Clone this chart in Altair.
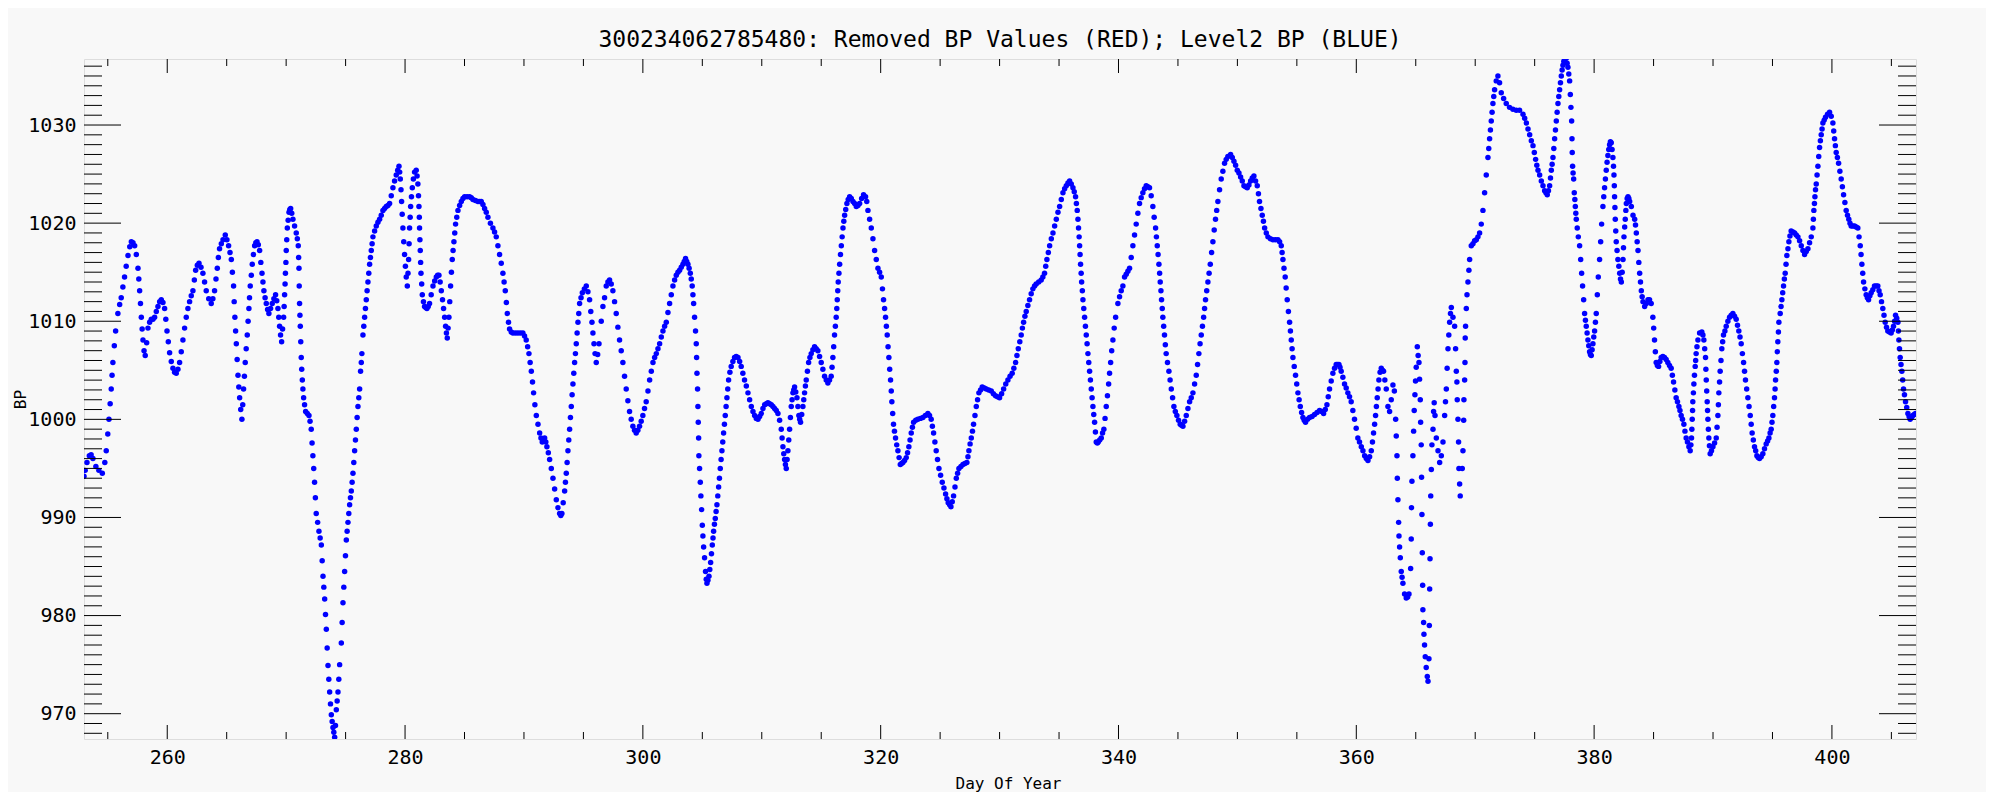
import altair as alt
import pandas as pd

TITLE = "300234062785480: Removed BP Values (RED); Level2 BP (BLUE)"

# (day of year, BP), segment by segment
seg_a = [(253.00, 994.2), (253.10, 994.8), (253.25, 995.6), (253.45, 996.3), (253.60, 996.4), (253.75, 996.0), (254.00, 995.2), (254.25, 994.8), (254.54, 994.5), (254.75, 995.6), (254.87, 996.8), (255.00, 998.5), (255.10, 1000.0), (255.20, 1001.6), (255.29, 1003.1), (255.36, 1004.5), (255.43, 1005.8), (255.55, 1007.5), (255.66, 1009.0), (255.85, 1010.8), (256.00, 1011.7), (256.13, 1012.4), (256.27, 1013.5), (256.41, 1014.5), (256.55, 1015.6), (256.70, 1016.7), (256.85, 1017.6), (256.98, 1018.1), (257.12, 1018.0), (257.26, 1017.7), (257.40, 1016.8), (257.54, 1015.4), (257.61, 1014.3), (257.68, 1013.1), (257.75, 1011.8), (257.82, 1010.4), (257.89, 1009.2), (257.96, 1008.1), (258.05, 1007.0), (258.15, 1006.5), (258.27, 1007.8), (258.38, 1009.3), (258.52, 1009.9), (258.66, 1010.2), (258.80, 1010.2), (258.94, 1010.4), (259.08, 1011.0), (259.22, 1011.5), (259.36, 1012.0), (259.50, 1012.2), (259.64, 1011.9), (259.78, 1011.3), (259.88, 1010.2), (259.98, 1009.0), (260.09, 1007.9), (260.20, 1006.8), (260.34, 1005.9), (260.48, 1005.2), (260.62, 1004.8), (260.76, 1004.7), (260.90, 1005.1), (261.04, 1005.8), (261.18, 1006.9), (261.32, 1008.1), (261.46, 1009.3), (261.60, 1010.4), (261.74, 1011.3), (261.88, 1012.0), (262.02, 1012.6), (262.16, 1013.1), (262.28, 1014.2), (262.39, 1015.2), (262.53, 1015.7), (262.67, 1015.9), (262.84, 1015.5), (263.00, 1014.9), (263.14, 1014.0), (263.28, 1013.1), (263.49, 1012.3), (263.70, 1011.8), (263.84, 1012.3), (263.98, 1013.1), (264.10, 1014.3), (264.21, 1015.4), (264.30, 1016.5), (264.40, 1017.4), (264.55, 1017.9), (264.69, 1018.3), (264.88, 1018.8), (265.02, 1018.3), (265.16, 1017.7), (265.28, 1017.0), (265.39, 1016.3), (265.48, 1015.0), (265.58, 1013.6), (265.63, 1012.0), (265.69, 1010.4), (265.75, 1009.0), (265.81, 1007.7), (265.88, 1006.1), (265.95, 1004.5), (266.02, 1003.3), (266.09, 1002.2), (266.18, 1001.0), (266.28, 1000.0), (266.35, 1001.5), (266.42, 1003.1), (266.49, 1004.4), (266.56, 1005.8), (266.64, 1007.2), (266.73, 1008.6), (266.80, 1010.0), (266.87, 1011.3), (266.92, 1012.4), (266.98, 1013.6), (267.07, 1014.7), (267.15, 1015.8), (267.25, 1016.8), (267.35, 1017.7), (267.45, 1018.0), (267.55, 1018.1), (267.66, 1017.8), (267.77, 1017.2), (267.87, 1016.0), (267.97, 1014.9), (268.05, 1014.0), (268.13, 1013.1), (268.23, 1012.4), (268.33, 1011.8), (268.44, 1011.2), (268.55, 1010.8), (268.69, 1011.3), (268.83, 1011.8), (268.97, 1012.3), (269.11, 1012.7), (269.21, 1012.1), (269.31, 1011.3), (269.38, 1010.4), (269.45, 1009.5), (269.53, 1008.6), (269.62, 1007.9), (269.70, 1009.2), (269.79, 1010.4), (269.83, 1011.5), (269.87, 1012.7), (269.91, 1013.8), (269.94, 1014.9), (269.98, 1016.0), (270.01, 1017.2), (270.05, 1018.3), (270.10, 1019.5), (270.17, 1020.3), (270.24, 1021.1), (270.31, 1021.4), (270.38, 1021.5), (270.47, 1021.0), (270.57, 1020.4), (270.71, 1019.7), (270.85, 1019.0), (270.94, 1018.4), (271.02, 1017.7), (271.05, 1016.5), (271.08, 1015.4), (271.10, 1013.6), (271.13, 1011.8), (271.16, 1010.6), (271.19, 1009.5), (271.23, 1007.9), (271.27, 1006.3), (271.31, 1005.1), (271.36, 1004.0), (271.41, 1003.1), (271.47, 1002.2), (271.55, 1001.5), (271.64, 1000.8), (271.78, 1000.6), (271.92, 1000.4), (272.01, 999.8), (272.11, 999.0), (272.18, 997.6), (272.25, 996.3), (272.32, 995.0), (272.39, 993.6), (272.46, 992.0), (272.53, 990.4), (272.65, 989.5), (272.76, 988.6), (272.86, 987.9), (272.96, 987.2), (273.03, 985.6), (273.10, 984.0), (273.17, 982.9), (273.24, 981.7), (273.31, 980.1), (273.38, 978.6), (273.45, 976.7), (273.52, 974.9), (273.59, 973.5), (273.66, 972.2), (273.73, 971.0), (273.80, 969.9), (273.87, 969.2), (273.94, 968.6), (274.01, 968.1), (274.08, 967.6), (274.15, 968.8), (274.22, 970.4), (274.29, 971.3), (274.36, 972.2), (274.43, 973.5), (274.50, 975.0)]

seg_b = [(274.64, 977.2), (274.71, 979.3), (274.78, 981.3), (274.85, 982.9), (274.92, 984.5), (274.99, 986.1), (275.06, 987.7), (275.13, 988.6), (275.20, 989.5), (275.27, 990.4), (275.34, 991.3), (275.41, 992.0), (275.48, 992.7), (275.55, 993.6), (275.62, 994.5), (275.69, 995.6), (275.76, 996.8), (275.83, 997.9), (275.90, 999.0), (275.97, 1000.2), (276.04, 1001.3), (276.11, 1002.2), (276.18, 1003.1), (276.26, 1004.9), (276.32, 1005.8), (276.37, 1006.7), (276.46, 1008.6), (276.53, 1009.5), (276.60, 1010.4), (276.67, 1011.3), (276.74, 1012.2), (276.81, 1013.1), (276.88, 1014.0), (276.95, 1014.9), (277.02, 1015.8), (277.09, 1016.5), (277.16, 1017.2), (277.23, 1017.9), (277.30, 1018.6), (277.44, 1019.2), (277.58, 1019.7), (277.72, 1020.1), (277.86, 1020.4), (278.00, 1020.8), (278.14, 1021.3), (278.28, 1021.5), (278.42, 1021.7), (278.56, 1021.8), (278.70, 1022.0), (278.84, 1022.8), (278.98, 1023.6), (279.12, 1024.3), (279.26, 1024.9), (279.38, 1025.4), (279.49, 1025.8), (279.55, 1025.2), (279.60, 1024.5), (279.66, 1023.4), (279.71, 1022.2), (279.76, 1020.9), (279.82, 1019.5), (279.89, 1018.1), (279.96, 1016.8), (280.03, 1015.6), (280.10, 1014.5), (280.19, 1013.6), (280.25, 1014.9), (280.30, 1016.3), (280.34, 1017.9), (280.38, 1019.5), (280.43, 1020.6), (280.47, 1021.7), (280.54, 1022.7), (280.61, 1023.6), (280.70, 1024.5), (280.80, 1025.2), (280.94, 1025.4), (281.01, 1024.8), (281.08, 1024.0), (281.13, 1022.8), (281.17, 1021.7), (281.20, 1020.6), (281.22, 1019.5), (281.25, 1018.3), (281.28, 1017.2), (281.31, 1016.0), (281.34, 1014.9), (281.40, 1013.8), (281.45, 1012.7), (281.55, 1012.0), (281.64, 1011.5), (281.74, 1011.4), (281.84, 1011.3), (281.95, 1011.5), (282.06, 1011.8), (282.20, 1012.7), (282.35, 1013.6), (282.49, 1014.1), (282.63, 1014.5), (282.74, 1014.7), (282.85, 1014.7), (282.95, 1014.0), (283.05, 1013.1), (283.15, 1012.2), (283.24, 1011.3), (283.33, 1010.4), (283.41, 1009.5), (283.48, 1008.8), (283.55, 1008.3), (283.62, 1009.3), (283.69, 1010.4), (283.76, 1012.0), (283.83, 1013.6), (283.90, 1015.0), (283.97, 1016.3), (284.04, 1017.2), (284.11, 1018.1), (284.18, 1019.0), (284.25, 1019.9), (284.35, 1020.6), (284.45, 1021.3), (284.59, 1021.8), (284.73, 1022.2), (284.87, 1022.5), (285.01, 1022.7), (285.22, 1022.7), (285.43, 1022.7), (285.57, 1022.6), (285.71, 1022.4), (285.92, 1022.3), (286.13, 1022.2), (286.27, 1022.2), (286.41, 1022.2), (286.55, 1021.9), (286.69, 1021.5), (286.83, 1021.1), (286.97, 1020.6), (287.18, 1020.0), (287.39, 1019.5), (287.53, 1019.1), (287.67, 1018.6), (287.81, 1017.7), (287.95, 1016.8), (288.09, 1015.9), (288.23, 1014.9), (288.33, 1014.0), (288.43, 1013.1), (288.52, 1011.9), (288.60, 1010.8), (288.70, 1009.9), (288.79, 1009.2), (288.93, 1008.9), (289.07, 1008.8), (289.28, 1008.8), (289.49, 1008.8), (289.70, 1008.8), (289.91, 1008.8), (290.05, 1008.5), (290.19, 1008.1), (290.31, 1007.4), (290.42, 1006.7), (290.52, 1005.8), (290.62, 1004.9), (290.72, 1003.8), (290.81, 1002.7), (290.92, 1001.5), (291.04, 1000.4), (291.18, 999.5), (291.32, 998.6), (291.43, 998.1), (291.54, 997.7), (291.64, 997.9), (291.74, 998.1), (291.84, 997.7), (291.93, 997.2), (292.05, 996.6), (292.16, 995.9), (292.30, 995.0), (292.44, 994.0), (292.58, 992.9), (292.72, 991.8), (292.86, 991.0), (293.00, 990.4), (293.10, 990.2), (293.19, 990.4), (293.30, 991.5), (293.42, 992.7), (293.49, 993.6), (293.56, 994.5), (293.63, 995.6), (293.70, 996.8), (293.77, 997.9), (293.84, 999.0), (293.91, 1000.2), (293.98, 1001.3), (294.05, 1002.5), (294.12, 1003.6), (294.19, 1004.7), (294.26, 1005.8), (294.33, 1006.7), (294.40, 1007.7), (294.47, 1008.8), (294.54, 1009.9), (294.61, 1010.8), (294.68, 1011.8), (294.80, 1012.4), (294.91, 1012.9), (295.08, 1013.3), (295.24, 1013.6), (295.38, 1013.0), (295.52, 1012.2), (295.62, 1011.0), (295.72, 1009.9), (295.80, 1008.8), (295.89, 1007.7), (295.98, 1006.7), (296.08, 1005.8), (296.20, 1006.6), (296.31, 1007.7)]

seg_c = [(296.50, 1010.0), (296.64, 1011.5), (296.78, 1012.4), (296.92, 1013.6), (297.06, 1014.0), (297.20, 1014.2), (297.34, 1013.8), (297.48, 1013.1), (297.62, 1012.0), (297.76, 1010.8), (297.90, 1009.4), (298.04, 1008.1), (298.18, 1007.0), (298.32, 1005.8), (298.46, 1004.4), (298.60, 1003.1), (298.74, 1001.9), (298.88, 1000.8), (299.02, 1000.0), (299.16, 999.3), (299.30, 998.9), (299.44, 998.6), (299.58, 998.9), (299.72, 999.3), (299.86, 999.8), (300.00, 1000.4), (300.14, 1001.1), (300.28, 1001.8), (300.43, 1002.9), (300.57, 1004.0), (300.71, 1004.9), (300.85, 1005.8), (300.99, 1006.3), (301.13, 1006.7), (301.27, 1007.2), (301.41, 1007.7), (301.55, 1008.4), (301.69, 1009.0), (301.83, 1009.5), (301.97, 1009.9), (302.11, 1010.9), (302.25, 1011.8), (302.39, 1012.7), (302.53, 1013.6), (302.67, 1014.2), (302.81, 1014.7), (302.95, 1015.0), (303.09, 1015.2), (303.23, 1015.5), (303.37, 1015.8), (303.48, 1016.1), (303.59, 1016.4), (303.69, 1016.1), (303.79, 1015.8), (303.89, 1015.4), (303.99, 1014.9), (304.07, 1014.3), (304.15, 1013.6), (304.21, 1012.7), (304.27, 1011.8), (304.35, 1010.4), (304.43, 1009.0), (304.49, 1007.7), (304.52, 1006.3), (304.55, 1004.7), (304.60, 1003.1), (304.63, 1001.3), (304.66, 999.7), (304.69, 998.1), (304.71, 996.3), (304.77, 995.0), (304.83, 993.6), (304.88, 992.2), (304.94, 990.8), (305.00, 989.2), (305.05, 988.1), (305.11, 987.0), (305.19, 985.9), (305.27, 984.5), (305.33, 983.7), (305.39, 983.3), (305.47, 983.6), (305.56, 984.0), (305.63, 984.7), (305.70, 985.4), (305.77, 986.3), (305.84, 987.2), (305.90, 987.9), (305.95, 988.6), (306.02, 989.3), (306.09, 989.9), (306.16, 990.6), (306.23, 991.3), (306.30, 992.2), (306.37, 993.1), (306.44, 994.0), (306.51, 995.0), (306.58, 995.9), (306.65, 996.8), (306.72, 997.7), (306.79, 998.6), (306.86, 999.5), (306.93, 1000.4), (307.00, 1001.3), (307.07, 1002.2), (307.14, 1003.1), (307.21, 1004.0), (307.32, 1004.8), (307.43, 1005.4), (307.57, 1005.9), (307.71, 1006.3), (307.85, 1006.4), (308.00, 1006.3), (308.14, 1005.9), (308.27, 1005.4), (308.41, 1004.7), (308.55, 1004.0), (308.70, 1003.4), (308.84, 1002.7), (308.98, 1002.0), (309.12, 1001.3), (309.26, 1000.8), (309.40, 1000.4), (309.54, 1000.1), (309.68, 1000.0), (309.82, 1000.3), (309.96, 1000.6), (310.10, 1001.1), (310.24, 1001.5), (310.38, 1001.6), (310.52, 1001.7), (310.66, 1001.6), (310.80, 1001.5), (310.94, 1001.3), (311.08, 1001.1), (311.22, 1000.9), (311.36, 1000.6), (311.50, 999.9), (311.64, 999.0), (311.71, 998.1), (311.78, 997.2), (311.85, 996.5), (311.92, 995.9), (311.99, 995.4), (312.06, 995.0), (312.13, 995.9), (312.20, 996.8), (312.27, 997.9), (312.34, 999.0), (312.41, 1000.2), (312.48, 1001.3), (312.55, 1002.0), (312.62, 1002.7), (312.69, 1003.0), (312.76, 1003.3), (312.86, 1002.8), (312.96, 1002.2), (313.04, 1001.3), (313.12, 1000.4), (313.19, 1000.0), (313.26, 999.7), (313.36, 1000.5), (313.46, 1001.3), (313.53, 1002.0), (313.60, 1002.7), (313.67, 1003.4), (313.74, 1004.0), (313.84, 1004.9), (313.94, 1005.8), (314.05, 1006.3), (314.16, 1006.7), (314.30, 1007.1), (314.44, 1007.4), (314.58, 1007.2), (314.72, 1007.0), (314.86, 1006.4), (315.00, 1005.8), (315.14, 1005.1), (315.28, 1004.4), (315.42, 1004.0), (315.56, 1003.7), (315.70, 1004.0), (315.84, 1004.4), (315.91, 1005.3), (315.98, 1006.3), (316.05, 1007.4), (316.12, 1008.6), (316.19, 1009.5), (316.26, 1010.4), (316.31, 1011.3), (316.35, 1012.2), (316.39, 1013.1), (316.43, 1014.0), (316.49, 1014.9), (316.55, 1015.8), (316.62, 1016.8), (316.69, 1017.7), (316.76, 1018.6), (316.83, 1019.5), (316.90, 1020.2), (316.97, 1020.8), (317.06, 1021.4), (317.16, 1022.0), (317.27, 1022.4), (317.39, 1022.7), (317.53, 1022.5), (317.67, 1022.2), (317.81, 1022.0), (317.95, 1021.7), (318.09, 1021.8), (318.23, 1022.0), (318.40, 1022.5), (318.56, 1022.9)]

seg_d = [(318.73, 1022.7), (318.83, 1022.2), (318.93, 1021.3), (319.07, 1020.4), (319.21, 1019.5), (319.35, 1018.4), (319.49, 1017.2), (319.63, 1016.3), (319.77, 1015.4), (319.91, 1015.0), (320.05, 1014.5), (320.15, 1013.3), (320.24, 1012.2), (320.33, 1011.3), (320.41, 1010.4), (320.48, 1009.5), (320.55, 1008.6), (320.62, 1007.4), (320.69, 1006.3), (320.76, 1005.1), (320.83, 1004.0), (320.89, 1002.9), (320.94, 1001.8), (321.01, 1000.6), (321.08, 999.5), (321.16, 998.8), (321.25, 998.1), (321.35, 997.4), (321.45, 996.8), (321.55, 996.1), (321.65, 995.4), (321.76, 995.5), (321.87, 995.6), (322.01, 995.8), (322.15, 996.1), (322.26, 996.6), (322.37, 997.2), (322.47, 997.9), (322.57, 998.6), (322.67, 999.2), (322.77, 999.7), (322.95, 999.9), (323.13, 1000.0), (323.34, 1000.1), (323.55, 1000.2), (323.76, 1000.4), (323.97, 1000.6), (324.11, 1000.4), (324.25, 1000.0), (324.35, 999.3), (324.45, 998.6), (324.56, 997.7), (324.67, 996.8), (324.78, 995.9), (324.90, 995.0), (325.04, 994.3), (325.18, 993.6), (325.32, 993.0), (325.46, 992.4), (325.57, 991.9), (325.68, 991.5), (325.80, 991.3), (325.91, 991.1), (326.02, 991.6), (326.13, 992.2), (326.25, 993.1), (326.36, 994.0), (326.47, 994.5), (326.58, 995.0), (326.75, 995.2), (326.92, 995.4), (327.08, 995.5), (327.25, 995.6), (327.34, 996.2), (327.42, 996.8), (327.52, 997.5), (327.62, 998.1), (327.72, 998.8), (327.81, 999.5), (327.93, 1000.4), (328.04, 1001.3), (328.15, 1002.0), (328.26, 1002.7), (328.40, 1003.0), (328.54, 1003.3), (328.71, 1003.2), (328.88, 1003.1), (329.09, 1003.0), (329.30, 1002.9), (329.48, 1002.6), (329.66, 1002.4), (329.83, 1002.3), (330.00, 1002.2), (330.17, 1002.6), (330.34, 1003.1), (330.52, 1003.6), (330.70, 1004.0), (330.88, 1004.4), (331.06, 1004.7), (331.20, 1005.2), (331.35, 1005.8), (331.46, 1006.5), (331.57, 1007.2), (331.70, 1007.9), (331.82, 1008.6), (331.92, 1009.3), (332.02, 1009.9), (332.13, 1010.5), (332.24, 1011.0), (332.38, 1011.6), (332.52, 1012.2), (332.66, 1012.8), (332.80, 1013.3), (332.94, 1013.6), (333.08, 1013.8), (333.29, 1014.0), (333.50, 1014.2), (333.64, 1014.5), (333.78, 1014.9), (333.88, 1015.6), (333.98, 1016.3), (334.10, 1017.0), (334.21, 1017.7), (334.35, 1018.4), (334.49, 1019.0), (334.63, 1019.7), (334.77, 1020.4), (334.91, 1021.1), (335.05, 1021.7), (335.19, 1022.4), (335.33, 1023.1), (335.47, 1023.5), (335.61, 1023.8), (335.75, 1024.1), (335.89, 1024.3), (336.03, 1024.0), (336.17, 1023.6), (336.28, 1023.2), (336.39, 1022.7), (336.46, 1022.0), (336.53, 1021.3), (336.59, 1020.4), (336.64, 1019.5), (336.69, 1018.6), (336.73, 1017.7), (336.77, 1016.8), (336.81, 1015.8), (336.86, 1014.9), (336.90, 1014.0), (336.96, 1013.1), (337.01, 1012.2), (337.08, 1011.3), (337.15, 1010.4), (337.22, 1009.5), (337.29, 1008.6), (337.36, 1007.7), (337.43, 1006.7), (337.50, 1005.8), (337.57, 1004.9), (337.64, 1004.0), (337.71, 1003.1), (337.78, 1002.2), (337.85, 1001.3), (337.92, 1000.5), (337.99, 999.7), (338.06, 998.7), (338.13, 997.7), (338.22, 997.6), (338.30, 997.7), (338.42, 997.9), (338.55, 998.1), (338.66, 998.6), (338.77, 999.0), (338.87, 1000.1), (338.97, 1001.3), (339.07, 1002.4), (339.17, 1003.6), (339.25, 1004.7), (339.34, 1005.8), (339.43, 1007.0), (339.53, 1008.1), (339.64, 1009.3), (339.76, 1010.4), (339.95, 1011.8), (340.09, 1012.5), (340.23, 1013.1), (340.37, 1013.6), (340.51, 1014.5), (340.65, 1014.8), (340.79, 1015.1)]

seg_e = [(340.93, 1015.4), (341.07, 1016.5), (341.21, 1017.7), (341.35, 1018.8), (341.49, 1019.9), (341.63, 1021.0), (341.77, 1022.0), (341.91, 1022.6), (342.05, 1023.1), (342.19, 1023.5), (342.33, 1023.8), (342.47, 1023.7), (342.61, 1023.6), (342.75, 1022.8), (342.89, 1021.7), (343.00, 1020.6), (343.12, 1019.5), (343.19, 1018.6), (343.26, 1017.7), (343.33, 1016.8), (343.40, 1015.8), (343.46, 1014.9), (343.51, 1014.0), (343.57, 1013.1), (343.62, 1012.2), (343.68, 1011.3), (343.73, 1010.4), (343.80, 1009.5), (343.87, 1008.6), (343.94, 1007.6), (344.01, 1006.7), (344.12, 1005.8), (344.24, 1004.9), (344.34, 1004.0), (344.44, 1003.1), (344.55, 1002.2), (344.66, 1001.3), (344.78, 1000.8), (344.91, 1000.4), (345.05, 999.9), (345.19, 999.5), (345.30, 999.4), (345.42, 999.3), (345.56, 999.8), (345.70, 1000.4), (345.84, 1001.1), (345.98, 1001.8), (346.12, 1002.2), (346.26, 1002.7), (346.40, 1003.6), (346.54, 1004.5), (346.65, 1005.6), (346.76, 1006.7), (346.86, 1007.7), (346.96, 1008.6), (347.06, 1009.5), (347.16, 1010.4), (347.24, 1011.3), (347.32, 1012.2), (347.42, 1013.1), (347.52, 1014.0), (347.62, 1014.9), (347.72, 1015.8), (347.83, 1017.0), (347.94, 1018.1), (348.05, 1019.3), (348.16, 1020.4), (348.26, 1021.3), (348.36, 1022.2), (348.50, 1023.4), (348.64, 1024.5), (348.78, 1025.3), (348.92, 1026.1), (349.06, 1026.5), (349.20, 1026.8), (349.43, 1027.0), (349.57, 1026.7), (349.71, 1026.3), (349.85, 1025.9), (349.99, 1025.4), (350.13, 1025.1), (350.27, 1024.7), (350.41, 1024.3), (350.55, 1023.8), (350.69, 1023.7), (350.83, 1023.6), (350.97, 1023.9), (351.11, 1024.3), (351.25, 1024.6), (351.39, 1024.8), (351.53, 1024.3), (351.67, 1023.8), (351.77, 1023.0), (351.86, 1022.2), (351.98, 1021.5), (352.09, 1020.8), (352.19, 1020.2), (352.29, 1019.5), (352.43, 1019.0), (352.57, 1018.6), (352.78, 1018.4), (352.99, 1018.3), (353.20, 1018.3), (353.41, 1018.3), (353.55, 1018.1), (353.69, 1017.7), (353.76, 1017.0), (353.83, 1016.3), (353.92, 1015.4), (354.02, 1014.5), (354.10, 1013.4), (354.19, 1012.2), (354.29, 1011.0), (354.39, 1009.9), (354.46, 1009.0), (354.53, 1008.1), (354.60, 1007.2), (354.67, 1006.3), (354.78, 1005.4), (354.89, 1004.5), (354.99, 1003.6), (355.09, 1002.7), (355.19, 1002.0), (355.29, 1001.3), (355.40, 1000.7), (355.51, 1000.2), (355.62, 999.9), (355.73, 999.7), (355.90, 1000.0), (356.07, 1000.2), (356.28, 1000.3), (356.49, 1000.5), (356.70, 1000.7), (356.91, 1000.9), (357.08, 1000.8), (357.25, 1000.6), (357.39, 1001.0), (357.53, 1001.5), (357.64, 1002.3), (357.75, 1003.1), (357.89, 1003.9), (358.03, 1004.7), (358.17, 1005.2), (358.31, 1005.6), (358.42, 1005.6), (358.54, 1005.6), (358.63, 1005.3), (358.73, 1004.9), (358.87, 1004.3), (359.01, 1003.6), (359.15, 1003.2), (359.29, 1002.7), (359.43, 1002.3), (359.57, 1001.8), (359.71, 1000.9), (359.85, 1000.0), (359.99, 999.1), (360.13, 998.1), (360.27, 997.7), (360.42, 997.2), (360.56, 996.8), (360.70, 996.3), (360.84, 996.0), (360.98, 995.8), (361.12, 996.2), (361.26, 996.8), (361.36, 997.7), (361.45, 998.6), (361.54, 999.5), (361.62, 1000.4), (361.69, 1001.3), (361.76, 1002.2), (361.83, 1003.1), (361.90, 1004.0), (362.00, 1004.8), (362.10, 1005.2), (362.20, 1005.0), (362.29, 1004.9), (362.40, 1004.0), (362.52, 1003.1), (362.66, 1001.3)]

seg_f = [(362.80, 1000.8), (362.94, 1002.0), (363.08, 1003.5), (363.20, 1002.9), (363.31, 1000.0), (363.36, 998.3), (363.42, 996.3), (363.45, 994.0), (363.50, 991.8), (363.56, 989.5), (363.59, 988.1), (363.64, 987.0), (363.70, 985.9), (363.78, 984.5), (363.85, 983.9), (363.92, 983.3), (364.06, 982.2), (364.20, 981.8), (364.32, 981.9), (364.43, 982.2), (364.57, 984.8), (364.62, 987.8), (364.64, 991.0), (364.68, 993.7), (364.76, 996.3), (364.82, 998.8), (364.87, 1000.9), (364.93, 1002.5), (364.98, 1003.9), (365.04, 1005.3), (365.13, 1007.4), (365.20, 1006.5), (365.27, 1005.8), (365.32, 1004.1), (365.38, 1002.0), (365.41, 999.7), (365.46, 997.4), (365.49, 994.1), (365.52, 990.3), (365.55, 986.4), (365.58, 983.1), (365.60, 980.6), (365.66, 979.3), (365.69, 978.1), (365.74, 977.0), (365.80, 975.8), (365.88, 974.7), (365.97, 973.8), (366.03, 973.3), (366.11, 975.6), (366.14, 979.0), (366.17, 982.7), (366.20, 985.8), (366.23, 989.3), (366.26, 992.2), (366.31, 994.9), (366.36, 997.4), (366.45, 999.0), (366.50, 1000.8), (366.55, 1001.7), (366.62, 1000.4), (366.73, 998.1), (366.87, 996.8), (367.01, 995.6), (367.15, 996.3), (367.29, 997.7), (367.43, 1000.4), (367.50, 1001.8), (367.57, 1003.1), (367.64, 1005.2), (367.71, 1007.2), (367.78, 1008.6), (367.85, 1009.9), (367.92, 1010.8), (367.99, 1011.4), (368.13, 1010.4), (368.27, 1009.5), (368.35, 1007.2), (368.41, 1004.9), (368.46, 1003.8), (368.49, 1002.0), (368.55, 1000.0), (368.60, 997.7), (368.63, 995.0), (368.69, 993.4), (368.74, 992.2), (368.91, 995.0), (368.97, 996.8), (369.03, 999.9), (369.05, 1002.0), (369.11, 1004.0), (369.14, 1005.8), (369.16, 1008.3), (369.19, 1009.5), (369.25, 1011.3), (369.31, 1012.7), (369.39, 1014.0), (369.47, 1015.2), (369.53, 1016.3), (369.67, 1017.7), (369.81, 1017.9), (369.95, 1018.2), (370.09, 1018.3), (370.23, 1018.6), (370.37, 1019.0), (370.51, 1019.9), (370.65, 1021.3), (370.79, 1023.1), (370.93, 1024.9), (371.07, 1026.7), (371.14, 1027.6), (371.21, 1028.6), (371.28, 1029.5), (371.35, 1030.4), (371.42, 1031.3), (371.49, 1032.2), (371.56, 1032.9), (371.63, 1033.6), (371.77, 1034.5), (371.91, 1035.0), (372.05, 1034.3), (372.19, 1033.3), (372.39, 1032.7), (372.61, 1032.2), (372.89, 1031.8), (373.17, 1031.6), (373.45, 1031.5), (373.73, 1031.5), (374.02, 1031.1), (374.16, 1030.7), (374.30, 1030.2), (374.44, 1029.6), (374.58, 1029.0), (374.72, 1028.4), (374.86, 1027.9), (374.97, 1027.2), (375.08, 1026.5), (375.18, 1025.9), (375.28, 1025.4), (375.42, 1024.9), (375.56, 1024.3), (375.70, 1023.8), (375.84, 1023.3), (375.95, 1023.1), (376.06, 1022.9), (376.16, 1023.3), (376.26, 1023.8), (376.33, 1024.6), (376.40, 1025.4), (376.47, 1026.0), (376.54, 1026.7), (376.61, 1027.6), (376.68, 1028.6), (376.75, 1029.5), (376.82, 1030.4), (376.89, 1031.3), (376.96, 1032.2), (377.03, 1032.9), (377.10, 1033.6), (377.17, 1034.3), (377.24, 1035.0), (377.31, 1035.6), (377.38, 1036.1), (377.45, 1036.5), (377.52, 1036.8), (377.59, 1036.8), (377.66, 1036.8), (377.73, 1036.3), (377.80, 1035.9), (377.87, 1035.2), (377.94, 1034.5), (378.00, 1033.1), (378.05, 1031.8), (378.11, 1030.4), (378.14, 1028.6), (378.16, 1027.2), (378.19, 1025.8), (378.23, 1025.1), (378.28, 1024.5), (378.33, 1023.1), (378.38, 1022.4), (378.42, 1021.7), (378.46, 1021.0), (378.50, 1020.4), (378.58, 1019.5), (378.67, 1018.6), (378.78, 1017.7), (378.87, 1016.3), (378.95, 1014.9), (379.03, 1013.6), (379.12, 1012.2), (379.20, 1010.8), (379.27, 1010.1), (379.34, 1009.5), (379.41, 1008.8), (379.48, 1008.1), (379.55, 1007.5), (379.62, 1006.9), (379.69, 1006.6), (379.76, 1006.5), (379.83, 1007.1), (379.90, 1007.7), (379.97, 1008.4), (380.04, 1009.0), (380.11, 1009.9), (380.18, 1010.8), (380.27, 1012.7), (380.35, 1014.5), (380.46, 1016.3), (380.55, 1018.1), (380.63, 1019.9), (380.74, 1021.7), (380.81, 1022.7), (380.88, 1023.6), (380.95, 1024.5), (381.02, 1025.4), (381.09, 1026.2), (381.16, 1026.9), (381.23, 1027.5), (381.30, 1028.0), (381.37, 1028.3), (381.44, 1028.2), (381.51, 1027.5), (381.58, 1026.7), (381.63, 1025.8), (381.67, 1024.9), (381.70, 1023.8), (381.72, 1022.7), (381.75, 1021.6), (381.78, 1020.4), (381.82, 1019.2), (381.86, 1018.1), (381.93, 1017.2), (382.00, 1016.3), (382.08, 1015.6), (382.15, 1014.9), (382.22, 1014.3), (382.29, 1014.0), (382.36, 1015.0), (382.43, 1016.3), (382.47, 1017.5), (382.51, 1018.6), (382.57, 1019.6), (382.62, 1020.4), (382.67, 1021.3), (382.71, 1022.0), (382.78, 1022.5), (382.85, 1022.7), (382.92, 1022.5), (382.99, 1022.2), (383.13, 1021.7), (383.27, 1020.8), (383.41, 1020.4), (383.48, 1019.8), (383.55, 1019.0), (383.62, 1018.1), (383.69, 1017.2), (383.76, 1016.0), (383.83, 1014.9), (383.90, 1014.0), (383.97, 1013.1), (384.04, 1012.5), (384.11, 1012.0), (384.25, 1011.5), (384.39, 1011.8), (384.53, 1012.2)]

seg_g = [(384.66, 1012.2), (384.80, 1011.8), (384.94, 1010.4), (385.01, 1009.3), (385.08, 1008.1), (385.15, 1006.9), (385.22, 1005.8), (385.32, 1005.5), (385.42, 1005.4), (385.53, 1005.9), (385.64, 1006.3), (385.78, 1006.4), (385.92, 1006.3), (386.06, 1006.1), (386.20, 1005.8), (386.34, 1005.5), (386.48, 1005.2), (386.58, 1004.5), (386.68, 1003.8), (386.79, 1003.0), (386.90, 1002.2), (387.01, 1001.8), (387.13, 1001.3), (387.22, 1000.9), (387.32, 1000.4), (387.43, 1000.0), (387.55, 999.5), (387.64, 998.8), (387.74, 998.1), (387.85, 997.7), (387.97, 997.2), (388.08, 996.8), (388.14, 997.4), (388.19, 998.1), (388.22, 999.0), (388.25, 1000.0), (388.28, 1000.9), (388.30, 1001.8), (388.35, 1002.7), (388.39, 1003.6), (388.44, 1004.5), (388.50, 1005.4), (388.54, 1006.0), (388.58, 1006.7), (388.65, 1007.4), (388.73, 1008.1), (388.87, 1008.8), (389.06, 1008.9), (389.15, 1008.6), (389.23, 1008.1), (389.30, 1007.2), (389.37, 1006.3), (389.40, 1005.1), (389.43, 1004.0), (389.47, 1002.9), (389.51, 1001.8), (389.54, 1000.9), (389.57, 1000.0), (389.61, 999.0), (389.65, 998.1), (389.70, 997.3), (389.76, 996.5), (389.87, 996.8), (389.99, 997.2), (390.13, 997.6), (390.27, 998.1), (390.34, 999.2), (390.41, 1000.4), (390.45, 1001.5), (390.49, 1002.7), (390.55, 1003.8), (390.60, 1004.9), (390.67, 1006.0), (390.74, 1007.2), (390.81, 1007.9), (390.88, 1008.6), (391.00, 1009.0), (391.11, 1009.5), (391.25, 1010.0), (391.39, 1010.4), (391.53, 1010.6), (391.67, 1010.8), (391.81, 1010.5), (391.95, 1010.2), (392.06, 1009.6), (392.17, 1009.0), (392.27, 1008.4), (392.37, 1007.7), (392.47, 1006.7), (392.57, 1005.8), (392.65, 1004.9), (392.73, 1004.0), (392.83, 1003.1), (392.93, 1002.2), (393.03, 1001.3), (393.13, 1000.4), (393.21, 999.5), (393.29, 998.6), (393.39, 997.9), (393.49, 997.2), (393.59, 996.8), (393.69, 996.3), (393.80, 996.1), (393.91, 996.0), (394.05, 996.2), (394.19, 996.5), (394.33, 997.0), (394.47, 997.5), (394.59, 997.8), (394.70, 998.1), (394.80, 998.6), (394.89, 999.0), (394.96, 999.7), (395.03, 1000.4), (395.10, 1001.3), (395.17, 1002.2), (395.22, 1003.1), (395.26, 1004.0), (395.32, 1004.9), (395.37, 1005.8), (395.41, 1006.9), (395.45, 1007.9), (395.50, 1008.9), (395.54, 1009.9), (395.65, 1010.8), (395.72, 1011.5), (395.79, 1012.2), (395.86, 1012.9), (395.93, 1013.6), (396.00, 1014.3), (396.07, 1014.9), (396.14, 1015.8), (396.21, 1016.7), (396.30, 1017.4), (396.38, 1018.1), (396.47, 1018.7), (396.57, 1019.2), (396.72, 1019.1), (396.86, 1019.0), (397.00, 1018.8), (397.14, 1018.6), (397.28, 1018.2), (397.42, 1017.7), (397.56, 1017.2), (397.70, 1016.8), (397.84, 1017.1), (397.98, 1017.4), (398.12, 1018.0), (398.26, 1018.6), (398.40, 1019.5), (398.44, 1020.4), (398.48, 1021.3), (398.53, 1022.0), (398.57, 1022.7), (398.62, 1023.4), (398.68, 1024.0), (398.75, 1024.9), (398.82, 1025.8), (398.89, 1026.8), (398.96, 1027.7), (399.03, 1028.4), (399.10, 1029.0), (399.17, 1029.6), (399.24, 1030.2), (399.35, 1030.5), (399.46, 1030.8), (399.63, 1031.1), (399.80, 1031.3), (399.94, 1030.9), (400.08, 1030.2), (400.15, 1029.4), (400.22, 1028.6), (400.29, 1027.9), (400.36, 1027.2), (400.46, 1026.7), (400.56, 1026.1), (400.67, 1025.3), (400.78, 1024.5), (400.88, 1023.7), (400.98, 1022.9), (401.09, 1022.1), (401.20, 1021.3), (401.31, 1020.8), (401.42, 1020.4), (401.52, 1020.0), (401.62, 1019.7), (401.76, 1019.7), (401.90, 1019.7), (402.04, 1019.6), (402.18, 1019.5), (402.28, 1018.6), (402.38, 1017.7), (402.45, 1016.8), (402.52, 1015.8), (402.59, 1014.9), (402.66, 1014.0), (402.77, 1013.3), (402.88, 1012.7), (402.98, 1012.4), (403.08, 1012.2), (403.19, 1012.6), (403.30, 1012.9), (403.44, 1013.2), (403.58, 1013.6), (403.72, 1013.6), (403.86, 1013.6), (403.96, 1013.1), (404.06, 1012.7), (404.17, 1012.0), (404.28, 1011.3), (404.38, 1010.6), (404.48, 1009.9), (404.59, 1009.4), (404.70, 1009.0), (404.84, 1008.9), (404.98, 1008.8), (405.08, 1009.1), (405.18, 1009.5), (405.27, 1010.0), (405.35, 1010.6), (405.45, 1010.3), (405.55, 1009.9), (405.59, 1009.0), (405.63, 1008.1), (405.68, 1007.2), (405.74, 1006.3), (405.81, 1005.6), (405.88, 1004.9), (405.95, 1004.0), (406.02, 1003.1), (406.10, 1002.5), (406.19, 1001.8), (406.29, 1001.2), (406.39, 1000.6), (406.49, 1000.3), (406.58, 1000.0), (406.70, 1000.2), (406.81, 1000.4), (406.92, 1000.5), (407.03, 1000.6)]

# axis ranges and tick values
x_domain = [253.0, 407.07]
y_domain = [967.42, 1036.73]
x_major = [260, 280, 300, 320, 340, 360, 380, 400]
x_minor = [v for v in range(255, 407, 5) if v % 20 != 0]
y_major = [970, 980, 990, 1000, 1010, 1020, 1030]
y_minor = [v for v in range(968, 1037) if v % 10 != 0]

W, H = 1832, 680
FONT = "DejaVu Sans Mono"

rows = []
for seg in (seg_a, seg_b, seg_c, seg_d, seg_e, seg_f, seg_g):
    for d, v in seg:
        rows.append({"day": d, "bp": v})
df = pd.DataFrame(rows)

xs = alt.Scale(domain=x_domain, nice=False, zero=False)
ys = alt.Scale(domain=y_domain, nice=False, zero=False)

x_axis = alt.Axis(
    values=x_major, title="Day Of Year", ticks=False, domain=False, grid=False,
    labelFont=FONT, labelFontSize=20, labelColor="black", labelPadding=8,
    labelFlush=False, labelOverlap=False, format="d",
    titleFont=FONT, titleFontSize=16, titleFontWeight="normal", titleColor="black",
    titleX=W / 2 + 8, titleY=49, titleBaseline="alphabetic")
y_axis = alt.Axis(
    values=y_major, title="BP", ticks=False, domain=False, grid=False,
    labelFont=FONT, labelFontSize=20, labelColor="black", labelPadding=8,
    labelFlush=False, labelOverlap=False, format="d",
    titleFont=FONT, titleFontSize=16, titleFontWeight="normal", titleColor="black",
    titleX=-56, titleY=H / 2, titleBaseline="bottom", titleAngle=270)

points = alt.Chart(df).mark_circle(
    color="#0000ff", size=30, opacity=1, clip=True, strokeWidth=0
).encode(
    x=alt.X("day:Q", scale=xs, axis=x_axis),
    y=alt.Y("bp:Q", scale=ys, axis=y_axis),
)


def y_ticks(vals, x1, x2):
    return alt.Chart(pd.DataFrame({"v": vals})).mark_rule(
        color="black", strokeWidth=1
    ).encode(y=alt.Y("v:Q", scale=ys, axis=y_axis), x=alt.value(x1), x2=alt.value(x2))


def x_ticks(vals, y1, y2):
    return alt.Chart(pd.DataFrame({"v": vals})).mark_rule(
        color="black", strokeWidth=1
    ).encode(x=alt.X("v:Q", scale=xs, axis=x_axis), y=alt.value(y1), y2=alt.value(y2))


title_layer = alt.Chart(pd.DataFrame({"t": [TITLE]})).mark_text(
    font=FONT, fontSize=23, color="black", align="center", baseline="alphabetic"
).encode(x=alt.value(W / 2), y=alt.value(-12.5), text="t:N")

layers = [
    points,
    y_ticks(y_major, 0, 37), y_ticks(y_minor, 0, 18),
    y_ticks(y_major, W, W - 37), y_ticks(y_minor, W, W - 18),
    x_ticks(x_major, H, H - 14), x_ticks(x_minor, H, H - 7),
    x_ticks(x_major, 0, 14), x_ticks(x_minor, 0, 7),
    title_layer,
]

chart = alt.layer(*layers).properties(
    width=W, height=H,
    autosize=alt.AutoSizeParams(type="none"),
    padding={"left": 76, "top": 51, "right": 70, "bottom": 53},
).configure_view(
    stroke="black", strokeWidth=1
).configure(background="#f8f8f8")

chart.save("out.html", embed_options={"renderer": "svg", "actions": False})
